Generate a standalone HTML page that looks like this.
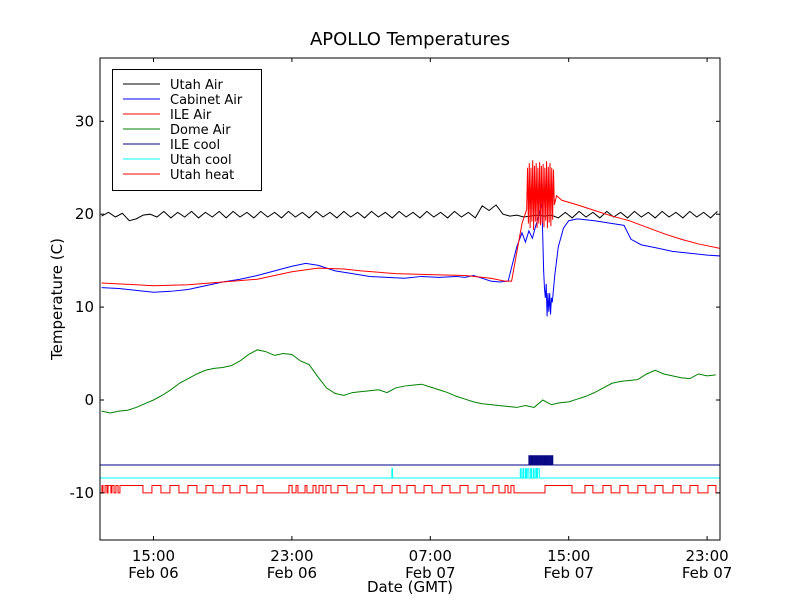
<!DOCTYPE html>
<html><head><meta charset="utf-8"><style>
html,body{margin:0;padding:0;background:#fff;}
svg{display:block;font-family:"DejaVu Sans","Liberation Sans",sans-serif;}
</style></head><body>
<svg id="chart" width="800" height="600" viewBox="0 0 800 600">
<rect x="0" y="0" width="800" height="600" fill="#fff"/>
<text x="410" y="45" font-size="18" text-anchor="middle">APOLLO Temperatures</text>
<g id="marks"></g>
<g id="axes"></g>
<text x="410" y="592" font-size="15" text-anchor="middle">Date (GMT)</text>
<text x="0" y="0" font-size="15" text-anchor="middle" transform="translate(62,299) rotate(-90)">Temperature (C)</text>
<g id="legend"></g>
</svg>
<script>
// ---- data (hours relative to 15:00 Feb 06) ----
const xTickHours = [0, 8, 16, 24, 32];
const xTickTimes = ["15:00", "23:00", "07:00", "15:00", "23:00"];
const xTickDates = ["Feb 06", "Feb 06", "Feb 07", "Feb 07", "Feb 07"];
const yTicks = [-10, 0, 10, 20, 30];
const seriesNames = ["Utah Air", "Cabinet Air", "ILE Air", "Dome Air", "ILE cool", "Utah cool", "Utah heat"];
const seriesColors = ["#000000", "#0000ff", "#ff0000", "#008000", "#000080", "#00ffff", "#ff0000"];

const utahAirStart = -3.0, utahAirStep = 0.4;
const utahAirV = [19.8,20.2,19.7,20.1,19.3,19.5,19.9,20.0,19.7,20.3,19.6,20.2,19.7,20.3,19.6,20.2,19.7,20.3,19.6,20.3,19.7,20.2,19.6,20.3,19.7,20.2,19.6,20.3,19.7,20.2,19.6,20.3,19.7,20.2,19.6,20.3,19.7,20.2,19.6,20.3,19.7,20.2,19.6,20.3,19.7,20.2,19.6,20.3,19.7,20.2,19.6,20.3,19.7,20.2,19.6,20.9,20.4,21.0,20.0,19.8,19.9,19.7,19.8,19.9,19.8,19.9,19.6,20.2,19.6,20.3,19.7,20.2,19.6,20.3,19.7,20.2,19.6,20.3,19.7,20.2,19.6,20.3,19.7,20.2,19.6,20.3,19.7,20.2,19.6,20.3];

const cabT = [-3,-2,-1,0,1,2,3,4,5,6,7,8,8.8,9.5,10.5,11.5,12.5,13.5,14.5,15.5,16.5,17.5,18,18.5,19,19.5,20,20.5,21,21.3,21.5,21.7,21.9,22.1,22.3,22.45,22.55,22.6,22.65,22.7,22.75,22.8,22.85,22.9,22.95,23.0,23.05,23.2,23.4,23.7,24.0,24.5,25.5,26.5,27.2,27.6,28.2,29,30,31,32,32.8];
const cabV = [12.1,12.0,11.8,11.6,11.7,11.9,12.3,12.7,13.0,13.4,13.9,14.4,14.7,14.5,13.9,13.6,13.3,13.2,13.1,13.3,13.2,13.3,13.2,13.4,13.1,12.8,12.7,12.8,16.5,18.0,17.0,18.2,17.4,18.8,20.0,21.2,14.0,12.0,11.0,12.5,9.0,11.5,9.5,11.5,9.2,11.0,10.5,13.5,16.5,18.5,19.3,19.5,19.3,19.0,18.8,17.3,16.7,16.4,16.0,15.8,15.6,15.5];

const ileT = [-3,-1,0,2,4,6,8,9.5,11,12,14,16,18,19.5,20.3,20.7,21.3,21.57,21.62,21.67,21.72,21.77,21.82,21.87,21.92,21.97,22.02,22.07,22.12,22.17,22.22,22.27,22.32,22.37,22.42,22.47,22.52,22.57,22.62,22.67,22.72,22.77,22.82,22.87,22.92,22.97,23.02,23.07,23.12,23.17,23.3,23.6,24.5,25.5,26.5,27.5,28.5,29.5,30.5,31.5,32.8];
const ileV = [12.6,12.4,12.3,12.4,12.7,13.0,13.8,14.2,14.1,13.9,13.6,13.5,13.4,13.1,12.8,12.8,19.0,20.5,25.0,19.0,25.5,18.5,25.0,19.2,25.8,18.3,25.2,19.2,25.5,18.5,25.0,19.0,25.6,18.8,25.2,19.0,25.4,18.6,25.0,19.3,25.7,18.5,25.1,19.1,25.5,18.7,25.0,19.4,24.8,21.0,22.0,21.5,21.0,20.4,19.8,19.3,18.6,17.9,17.3,16.8,16.3];

const domeStart = -3.0, domeStep = 0.5;
const domeV = [-1.2,-1.4,-1.2,-1.1,-0.8,-0.4,0.0,0.5,1.1,1.8,2.3,2.8,3.2,3.4,3.5,3.7,4.2,4.9,5.4,5.2,4.8,5.0,4.9,4.2,3.8,2.5,1.3,0.7,0.5,0.8,0.9,1.0,1.1,0.8,1.3,1.5,1.6,1.7,1.4,1.1,0.8,0.4,0.1,-0.2,-0.4,-0.5,-0.6,-0.7,-0.8,-0.6,-0.8,0.0,-0.5,-0.3,-0.2,0.1,0.4,0.8,1.3,1.8,2.0,2.1,2.2,2.8,3.2,2.8,2.6,2.4,2.3,2.8,2.6,2.7];

const ileCoolOff = -7.0, ileCoolOn = -6.0;
const ileCoolPulses = [[21.70,21.76],[21.82,21.88],[21.94,22.00],[22.06,22.12],[22.18,22.24],[22.30,22.36],[22.42,22.48],[22.54,22.60],[22.66,22.72],[22.78,22.84],[22.90,22.96],[23.02,23.08]];
const utahCoolOff = -8.4, utahCoolOn = -7.4;
const utahCoolPulses = [[13.78,13.82],[21.2,21.25],[21.35,21.4],[21.5,21.55],[21.6,21.7],[21.8,21.85],[21.95,22.0],[22.1,22.15],[22.2,22.3]];
const heatOff = -10.0, heatOn = -9.2;
const heatPulses = [[-2.98,-2.92],[-2.80,-2.69],[-2.63,-2.46],[-2.40,-2.28],[-2.17,-2.05],[-1.94,-0.61],[-0.09,0.43],[0.95,1.47],[1.99,2.51],[3.03,3.44],[4.02,4.42],[5.0,5.40],[5.98,6.33],[7.83,8.01],[8.24,8.35],[8.76,8.87],[9.22,9.39],[9.57,9.8],[9.97,10.26],[10.66,11.19],[11.76,12.17],[12.75,13.21],[13.79,14.25],[14.65,15.12],[15.64,16.1],[16.68,17.14],[17.72,18.18],[18.70,19.10],[19.62,19.97],[20.32,20.49],[20.66,20.84],[22.63,24.19],[24.94,25.4],[25.98,26.45],[26.96,27.43],[28.0,28.46],[28.99,29.45],[30.03,30.49],[31.01,31.47],[32.05,32.51]];

// ---- axes ----
const L = 100, R = 720, T = 58, B = 540;
const X0 = 153.5, XPH = 17.3;
function xs(h) { return X0 + h * XPH; }
function ys(v) { return 400 - v * 9.29; }
const NS = "http://www.w3.org/2000/svg";
function mk(tag, attrs, parent) {
  const e = document.createElementNS(NS, tag);
  for (const k in attrs) e.setAttribute(k, attrs[k]);
  parent.appendChild(e);
  return e;
}
const marks = document.getElementById("marks");
const axes = document.getElementById("axes");
const legend = document.getElementById("legend");

const clip = mk("clipPath", {id: "plotclip"}, marks);
mk("rect", {x: L, y: T, width: R - L, height: B - T}, clip);
marks.setAttribute("clip-path", "url(#plotclip)");

function linePath(ts, vs) {
  let d = "";
  for (let i = 0; i < vs.length; i++) d += (i ? "L" : "M") + xs(ts[i]).toFixed(2) + "," + ys(vs[i]).toFixed(2);
  return d;
}
function gridTimes(start, step, n) { const a = []; for (let i = 0; i < n; i++) a.push(start + i * step); return a; }
function stepPath(off, on, pulses) {
  let d = "M" + xs(-3.2) + "," + ys(off);
  for (const p of pulses) {
    d += "L" + xs(p[0]).toFixed(2) + "," + ys(off) + "L" + xs(p[0]).toFixed(2) + "," + ys(on);
    d += "L" + xs(p[1]).toFixed(2) + "," + ys(on) + "L" + xs(p[1]).toFixed(2) + "," + ys(off);
  }
  d += "L" + xs(33) + "," + ys(off);
  return d;
}

let p;
p = mk("path", {d: stepPath(heatOff, heatOn, heatPulses), fill: "none", stroke: seriesColors[6], "stroke-width": 1}, marks);


p = mk("path", {d: stepPath(utahCoolOff, utahCoolOn, utahCoolPulses), fill: "none", stroke: seriesColors[5], "stroke-width": 1}, marks);


p = mk("path", {d: stepPath(ileCoolOff, ileCoolOn, ileCoolPulses), fill: "none", stroke: seriesColors[4], "stroke-width": 1}, marks);


p = mk("path", {d: linePath(gridTimes(domeStart, domeStep, domeV.length), domeV), fill: "none", stroke: seriesColors[3], "stroke-width": 1}, marks);


p = mk("path", {d: linePath(gridTimes(utahAirStart, utahAirStep, utahAirV.length), utahAirV), fill: "none", stroke: seriesColors[0], "stroke-width": 1}, marks);


p = mk("path", {d: linePath(cabT, cabV), fill: "none", stroke: seriesColors[1], "stroke-width": 1}, marks);


p = mk("path", {d: linePath(ileT, ileV), fill: "none", stroke: seriesColors[2], "stroke-width": 1}, marks);



// frame
p = mk("rect", {x: L, y: T, width: R - L, height: B - T, fill: "none", stroke: "#000", "stroke-width": 1}, axes);



xTickHours.forEach((h, i) => {
  const x = xs(h);
  mk("line", {x1: x, y1: B, x2: x, y2: B - 4, stroke: "#000"}, axes);
  mk("line", {x1: x, y1: T, x2: x, y2: T + 4, stroke: "#000"}, axes);
  const t = mk("text", {x: x, y: B + 21, "font-size": 15, "text-anchor": "middle"}, axes);
  t.textContent = xTickTimes[i];
  
  
  const t2 = mk("text", {x: x, y: B + 38, "font-size": 15, "text-anchor": "middle"}, axes);
  t2.textContent = xTickDates[i];
  
  
});
yTicks.forEach(v => {
  const y = ys(v);
  mk("line", {x1: L, y1: y, x2: L + 4, y2: y, stroke: "#000"}, axes);
  mk("line", {x1: R, y1: y, x2: R - 4, y2: y, stroke: "#000"}, axes);
  const t = mk("text", {x: L - 6, y: y + 5, "font-size": 15, "text-anchor": "end"}, axes);
  t.textContent = String(v);
  
  
});

// legend
p = mk("rect", {x: 112.5, y: 69.5, width: 149, height: 121, fill: "#fff", stroke: "#000", "stroke-width": 1}, legend);


seriesNames.forEach((n, i) => {
  const y = 84 + i * 15;
  const g = mk("g", {}, legend);
  
  
  mk("line", {x1: 123, y1: y, x2: 160, y2: y, stroke: seriesColors[i], "stroke-width": 1}, g);
  const t = mk("text", {x: 170, y: y + 5, "font-size": 13}, g);
  t.textContent = n;
});
</script>
</body></html>
